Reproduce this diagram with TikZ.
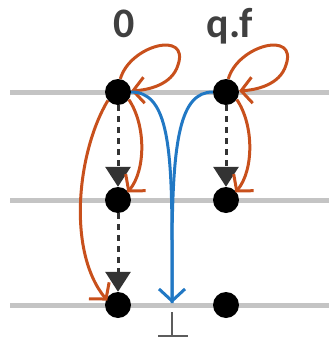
\documentclass[tikz,border=0pt]{standalone}
\usepackage{fontspec}
\setmainfont{Carlito}
\usetikzlibrary{arrows.meta}
\definecolor{rail}{HTML}{C4C4C4}
\definecolor{ink}{HTML}{333333}
\definecolor{lbl}{HTML}{404040}
\definecolor{burnt}{HTML}{C8501C}
\definecolor{sky}{HTML}{2178C4}
\tikzset{
  rail/.style={draw=rail,line width=5pt},
  dot/.style={circle,fill=black,minimum size=26pt,inner sep=0pt},
  lbl/.style={text=lbl,font=\fontsize{42}{44}\selectfont\bfseries,anchor=base,inner sep=0pt},
  dashdown/.style={draw=ink,line width=3pt,dash pattern=on 6pt off 5pt,
    -{Triangle[length=20pt 0,width=25pt 0]}},
  redge/.style={draw=burnt,line width=3pt,
    -{Straight Barb[length=11pt 0,width=26pt 0,line width=3pt]}},
  bedge/.style={draw=sky,line width=3pt},
  bhead/.style={bedge,-{Straight Barb[length=12pt 0,width=26pt 0,line width=3pt]}},
  bottom/.style={draw=ink!80,line width=2.2pt}
}
\begin{document}
\begin{tikzpicture}[x=1pt,y=-1pt]
\useasboundingbox (0,0) rectangle (329,341);

% horizontal rails
\draw[rail] (10,92) -- (329,92);
\draw[rail] (10,200) -- (329,200);
\draw[rail] (10,305) -- (329,305);

% column labels
\node[lbl] (l0) at (124,37) {0};
\node[lbl] (lq) at (230,37) {q.f};

% states
\node[dot] (a0) at (118,92) {};
\node[dot] (a1) at (118,200) {};
\node[dot] (a2) at (118,305) {};
\node[dot] (b0) at (226,92) {};
\node[dot] (b1) at (226,200) {};
\node[dot] (b2) at (226,305) {};

% dashed successor arrows
\draw[dashdown] (a0.south) -- (a1.north);
\draw[dashdown] (a1.south) -- (a2.north);
\draw[dashdown] (b0.south) -- (b1.north);

% self loops
\draw[redge] (a0.80) .. controls (130,45) and (190,30) .. (178,65)
  .. controls (172,85) and (148,90) .. (a0.5);
\draw[redge] (b0.80) .. controls (238,45) and (298,30) .. (286,65)
  .. controls (280,85) and (256,90) .. (b0.5);

% bent arrows to the next row
\draw[redge] (a0.-35) .. controls (146,125) and (146,170) .. ([shift={(-2pt,1pt)}]a1.30);
\draw[redge] (b0.-35) .. controls (254,125) and (254,170) .. ([shift={(-2pt,1pt)}]b1.30);

% long arrow down the left side
\draw[redge] (a0.-140) .. controls (78,150) and (66,250) .. ([shift={(2pt,1pt)}]a2.165);

% blue arrows into the bottom state
\coordinate (sink) at (172,303);
\coordinate (bar) at (172,312);
\draw[bedge] (a0.east) .. controls (166,92) and (172,140) .. (172,240) -- (sink);
\draw[bhead] (b0.west) .. controls (180,92) and (173,140) .. (172,240) -- (sink);

% bottom symbol
\draw[bottom] (bar) -- ++(0,23);
\draw[bottom] (158,336) -- (188,336);
\end{tikzpicture}
\end{document}
